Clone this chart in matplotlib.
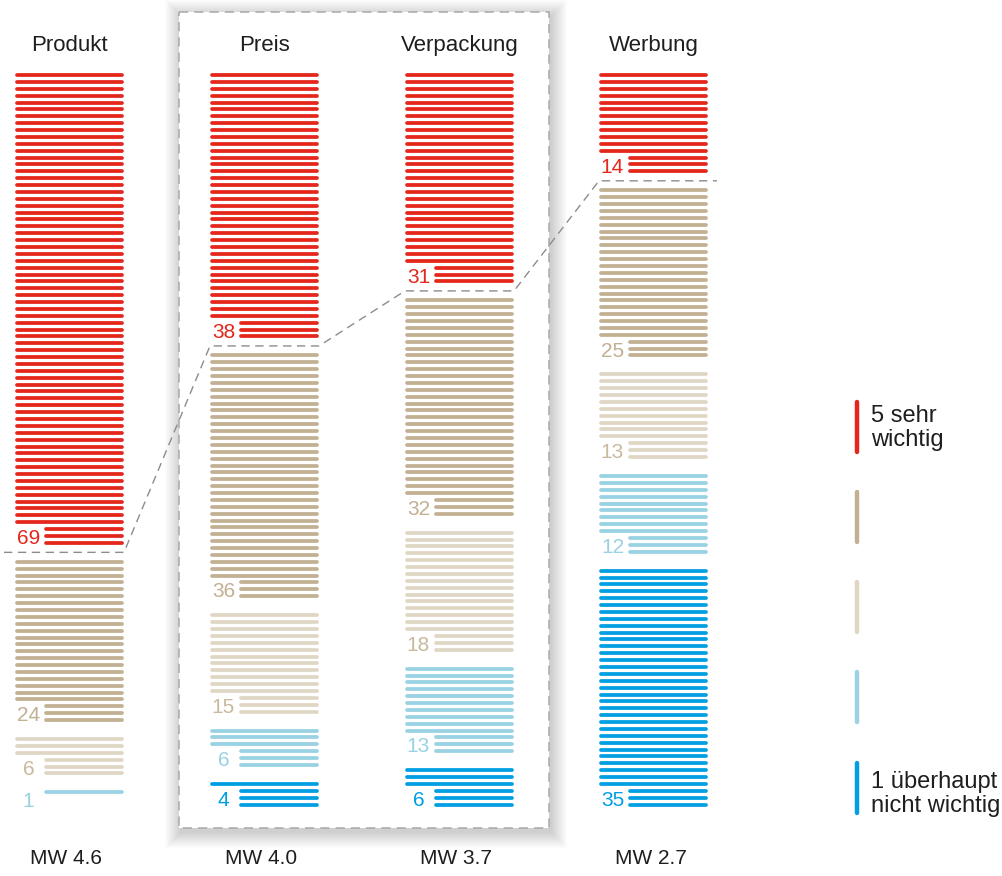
import numpy as np
import matplotlib.pyplot as plt
from matplotlib.patches import Rectangle

plt.rcParams['font.family'] = ['Liberation Sans', 'DejaVu Sans']

# percentages per rating, from 5 (sehr wichtig) down to 1 (überhaupt nicht wichtig)
columns = ['Produkt', 'Preis', 'Verpackung', 'Werbung']
r5 = [69, 38, 31, 14]
r4 = [24, 36, 32, 25]
r3 = [6, 15, 18, 13]
r2 = [1, 6, 13, 12]
r1 = [0, 4, 6, 35]
# the chart draws 100 lines per column, so the rounded top shares get one extra line
r5_lines = [69, 39, 31, 15]
mw = ['4.6', '4.0', '3.7', '2.7']

colors = ['#e4261b', '#c2b092', '#e0d6c4', '#98d2e3', '#009fe3']
label_colors = ['#e4261b', '#c2b092', '#c9b99d', '#98d2e3', '#009fe3']
text_col = '#1e1e1e'

# layout in pixels
col_left = [15, 210, 405, 599]
col_w = 109
top = 75
pitch = 6.88
gap = 19
short = 29
lw = 2.7  # points
cap = lw * 100 / 72 / 2

fig = plt.figure(figsize=(10.02, 8.76), dpi=100)
ax = fig.add_axes([0, 0, 1, 1])
ax.set_xlim(0, 1002)
ax.set_ylim(876, 0)
ax.axis('off')

# shadowed dashed frame around Preis / Verpackung
bx, by, bw, bh = 179.5, 12, 369.5, 816
for i in range(16, 0, -1):
    ax.add_patch(Rectangle((bx - i + 2, by - i + 4), bw + 2 * i, bh + 2 * i,
                           facecolor='black', edgecolor='none', alpha=0.011, zorder=0))
ax.add_patch(Rectangle((bx, by), bw, bh, facecolor='white', edgecolor='#a8a8a8',
                       lw=1.1, linestyle=(0, (6, 4)), zorder=1))

boundary = []
for c, name in enumerate(columns):
    x0 = col_left[c]
    x1 = x0 + col_w
    vals = [r5[c], r4[c], r3[c], r2[c], r1[c]]
    counts = [r5_lines[c], r4[c], r3[c], r2[c], r1[c]]
    y = top
    first = True
    for k, n in enumerate(counts):
        if n == 0:
            continue
        if not first:
            y += gap - pitch
        first = False
        ys = [y + i * pitch for i in range(n)]
        for i, yy in enumerate(ys):
            xs = x0 + short if i >= n - 3 else x0
            ax.plot([xs + cap, x1 - cap], [yy, yy], color=colors[k], lw=lw,
                    solid_capstyle='round', zorder=3)
        ylab = ys[max(n - 3, 0)] + 15
        ax.text(x0 + 13.5, ylab, str(vals[k]), color=label_colors[k],
                fontsize=15, ha='center', va='baseline', zorder=4)
        if k == 0:
            boundary.append(ys[-1] + gap / 2)
        y = ys[-1] + pitch
    ax.text(x0 + col_w / 2, 51, name, fontsize=16, color=text_col,
            ha='center', va='baseline', zorder=4)
    ax.text(x0 + col_w / 2 - 3, 864, 'MW ' + mw[c], fontsize=15, color=text_col,
            ha='center', va='baseline', zorder=4)

# dashed line separating the top rating
px, py = [], []
for c in range(len(columns)):
    xa = col_left[c] - (11 if c == 0 else 0)
    xb = col_left[c] + col_w + (9 if c == len(columns) - 1 else 0)
    px += [xa, xb]
    py += [boundary[c], boundary[c]]
ax.plot(px, py, color='#8c8c8c', lw=1.0, linestyle=(0, (6, 4)), zorder=2)

# legend
leg_y = [400, 490, 580, 670, 761]
for k, yy in enumerate(leg_y):
    ax.plot([857, 857], [yy + 2, yy + 52], color=colors[k], lw=3.2,
            solid_capstyle='round', zorder=3)
ax.text(871, 422, '5 sehr', fontsize=17, color=text_col, ha='left', va='baseline')
ax.text(871, 446, 'wichtig', fontsize=17, color=text_col, ha='left', va='baseline')
ax.text(871, 788, '1 überhaupt', fontsize=17, color=text_col, ha='left', va='baseline')
ax.text(871, 812, 'nicht wichtig', fontsize=17, color=text_col, ha='left', va='baseline')

fig.savefig('out.png', dpi=100)
